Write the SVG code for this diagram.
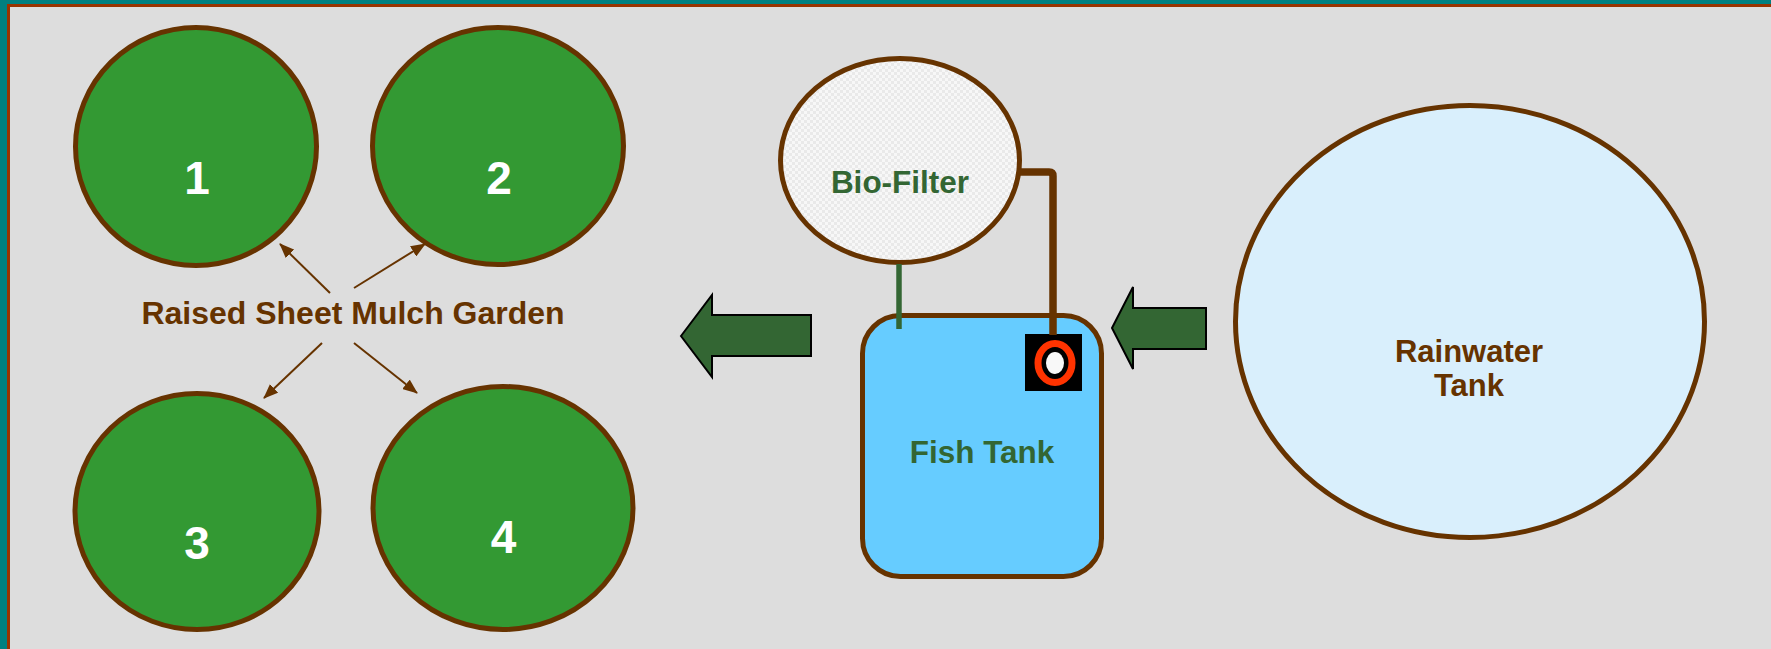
<svg xmlns="http://www.w3.org/2000/svg" width="1771" height="649" viewBox="0 0 1771 649">
  <style>
    .bed { fill: #339933; stroke: #663300; stroke-width: 5; }
    .num { font-family: "Liberation Sans", Arial, sans-serif; font-weight: bold; font-size: 46px; fill: #ffffff; text-anchor: middle; }
    .lbl { font-family: "Liberation Sans", Arial, sans-serif; font-weight: bold; text-anchor: middle; }
    .brown { fill: #663300; }
    .green { fill: #336633; }
    .thin { stroke: #663300; stroke-width: 2; fill: none; marker-end: url(#tip); }
    .flow { fill: #336633; stroke: #000000; stroke-width: 2; }
  </style>
  <defs>
    <marker id="tip" viewBox="0 0 15 12" refX="14" refY="6" markerWidth="15" markerHeight="12" markerUnits="userSpaceOnUse" orient="auto">
      <path d="M0,0 L15,6 L0,12 Z" fill="#663300"/>
    </marker>
    <pattern id="checker" width="6" height="6" patternUnits="userSpaceOnUse">
      <rect width="6" height="6" fill="#f7f7f7"/>
      <rect width="3" height="3" fill="#e9e9e9"/>
      <rect x="3" y="3" width="3" height="3" fill="#e9e9e9"/>
    </pattern>
  </defs>

  <!-- frame and background -->
  <rect x="0" y="0" width="1771" height="649" fill="#008080"/>
  <rect x="7" y="4" width="1764" height="645" fill="#993300"/>
  <rect x="10" y="7" width="1761" height="642" fill="#dddddd"/>

  <!-- garden beds -->
  <g id="bed1">
    <ellipse class="bed" cx="196" cy="146.5" rx="120.5" ry="119"/>
    <text class="num" x="197" y="194">1</text>
  </g>
  <g id="bed2">
    <ellipse class="bed" cx="498" cy="146" rx="125.5" ry="118.5"/>
    <text class="num" x="499" y="194">2</text>
  </g>
  <g id="bed3">
    <ellipse class="bed" cx="197" cy="511.5" rx="122" ry="118"/>
    <text class="num" x="197" y="559">3</text>
  </g>
  <g id="bed4">
    <ellipse class="bed" cx="503" cy="508" rx="130" ry="121.5"/>
    <text class="num" x="503.5" y="553">4</text>
  </g>

  <g id="garden-label">
    <text class="lbl brown" x="353" y="324" font-size="32">Raised Sheet Mulch Garden</text>
  </g>

  <!-- bio-filter -->
  <g id="biofilter">
    <ellipse cx="900" cy="160.5" rx="119.5" ry="102" fill="url(#checker)" stroke="#663300" stroke-width="5"/>
    <text class="lbl green" x="900" y="193" font-size="31.5">Bio-Filter</text>
  </g>

  <!-- fish tank -->
  <g id="fishtank">
    <rect x="862.5" y="315.5" width="239" height="261" rx="38" ry="38" fill="#66ccff" stroke="#663300" stroke-width="5"/>
    <text class="lbl green" x="982" y="463" font-size="31.5">Fish Tank</text>
  </g>

  <!-- pump -->
  <g id="pump">
    <rect x="1025" y="334" width="57" height="57" fill="#000000"/>
    <ellipse cx="1055" cy="363" rx="17" ry="19.5" fill="#000000" stroke="#ff3300" stroke-width="7"/>
    <ellipse cx="1055" cy="363" rx="9" ry="11" fill="#f8f8f8"/>
  </g>

  <!-- rainwater tank -->
  <g id="rainwater">
    <ellipse cx="1470" cy="321.5" rx="234.5" ry="216" fill="#d9effc" stroke="#663300" stroke-width="5"/>
    <text class="lbl brown" x="1469" y="362" font-size="31">Rainwater</text>
    <text class="lbl brown" x="1469" y="396" font-size="31">Tank</text>
  </g>

  <!-- connectors -->
  <g id="connectors">
    <line class="thin" x1="330" y1="293" x2="280" y2="244"/>
    <line class="thin" x1="354" y1="288" x2="425" y2="244"/>
    <line class="thin" x1="322" y1="343" x2="264" y2="398"/>
    <line class="thin" x1="354" y1="343" x2="417" y2="393"/>
    <line x1="899" y1="264" x2="899" y2="329" stroke="#336633" stroke-width="5.5"/>
    <path d="M1019,172 H1049 Q1053,172 1053,176 V335" fill="none" stroke="#663300" stroke-width="7.5"/>
    <polygon class="flow" points="681,336 712,295 712,315 811,315 811,356 712,356 712,377"/>
    <polygon class="flow" points="1112,328 1133,287 1133,308 1206,308 1206,349 1133,349 1133,369"/>
  </g>
</svg>
